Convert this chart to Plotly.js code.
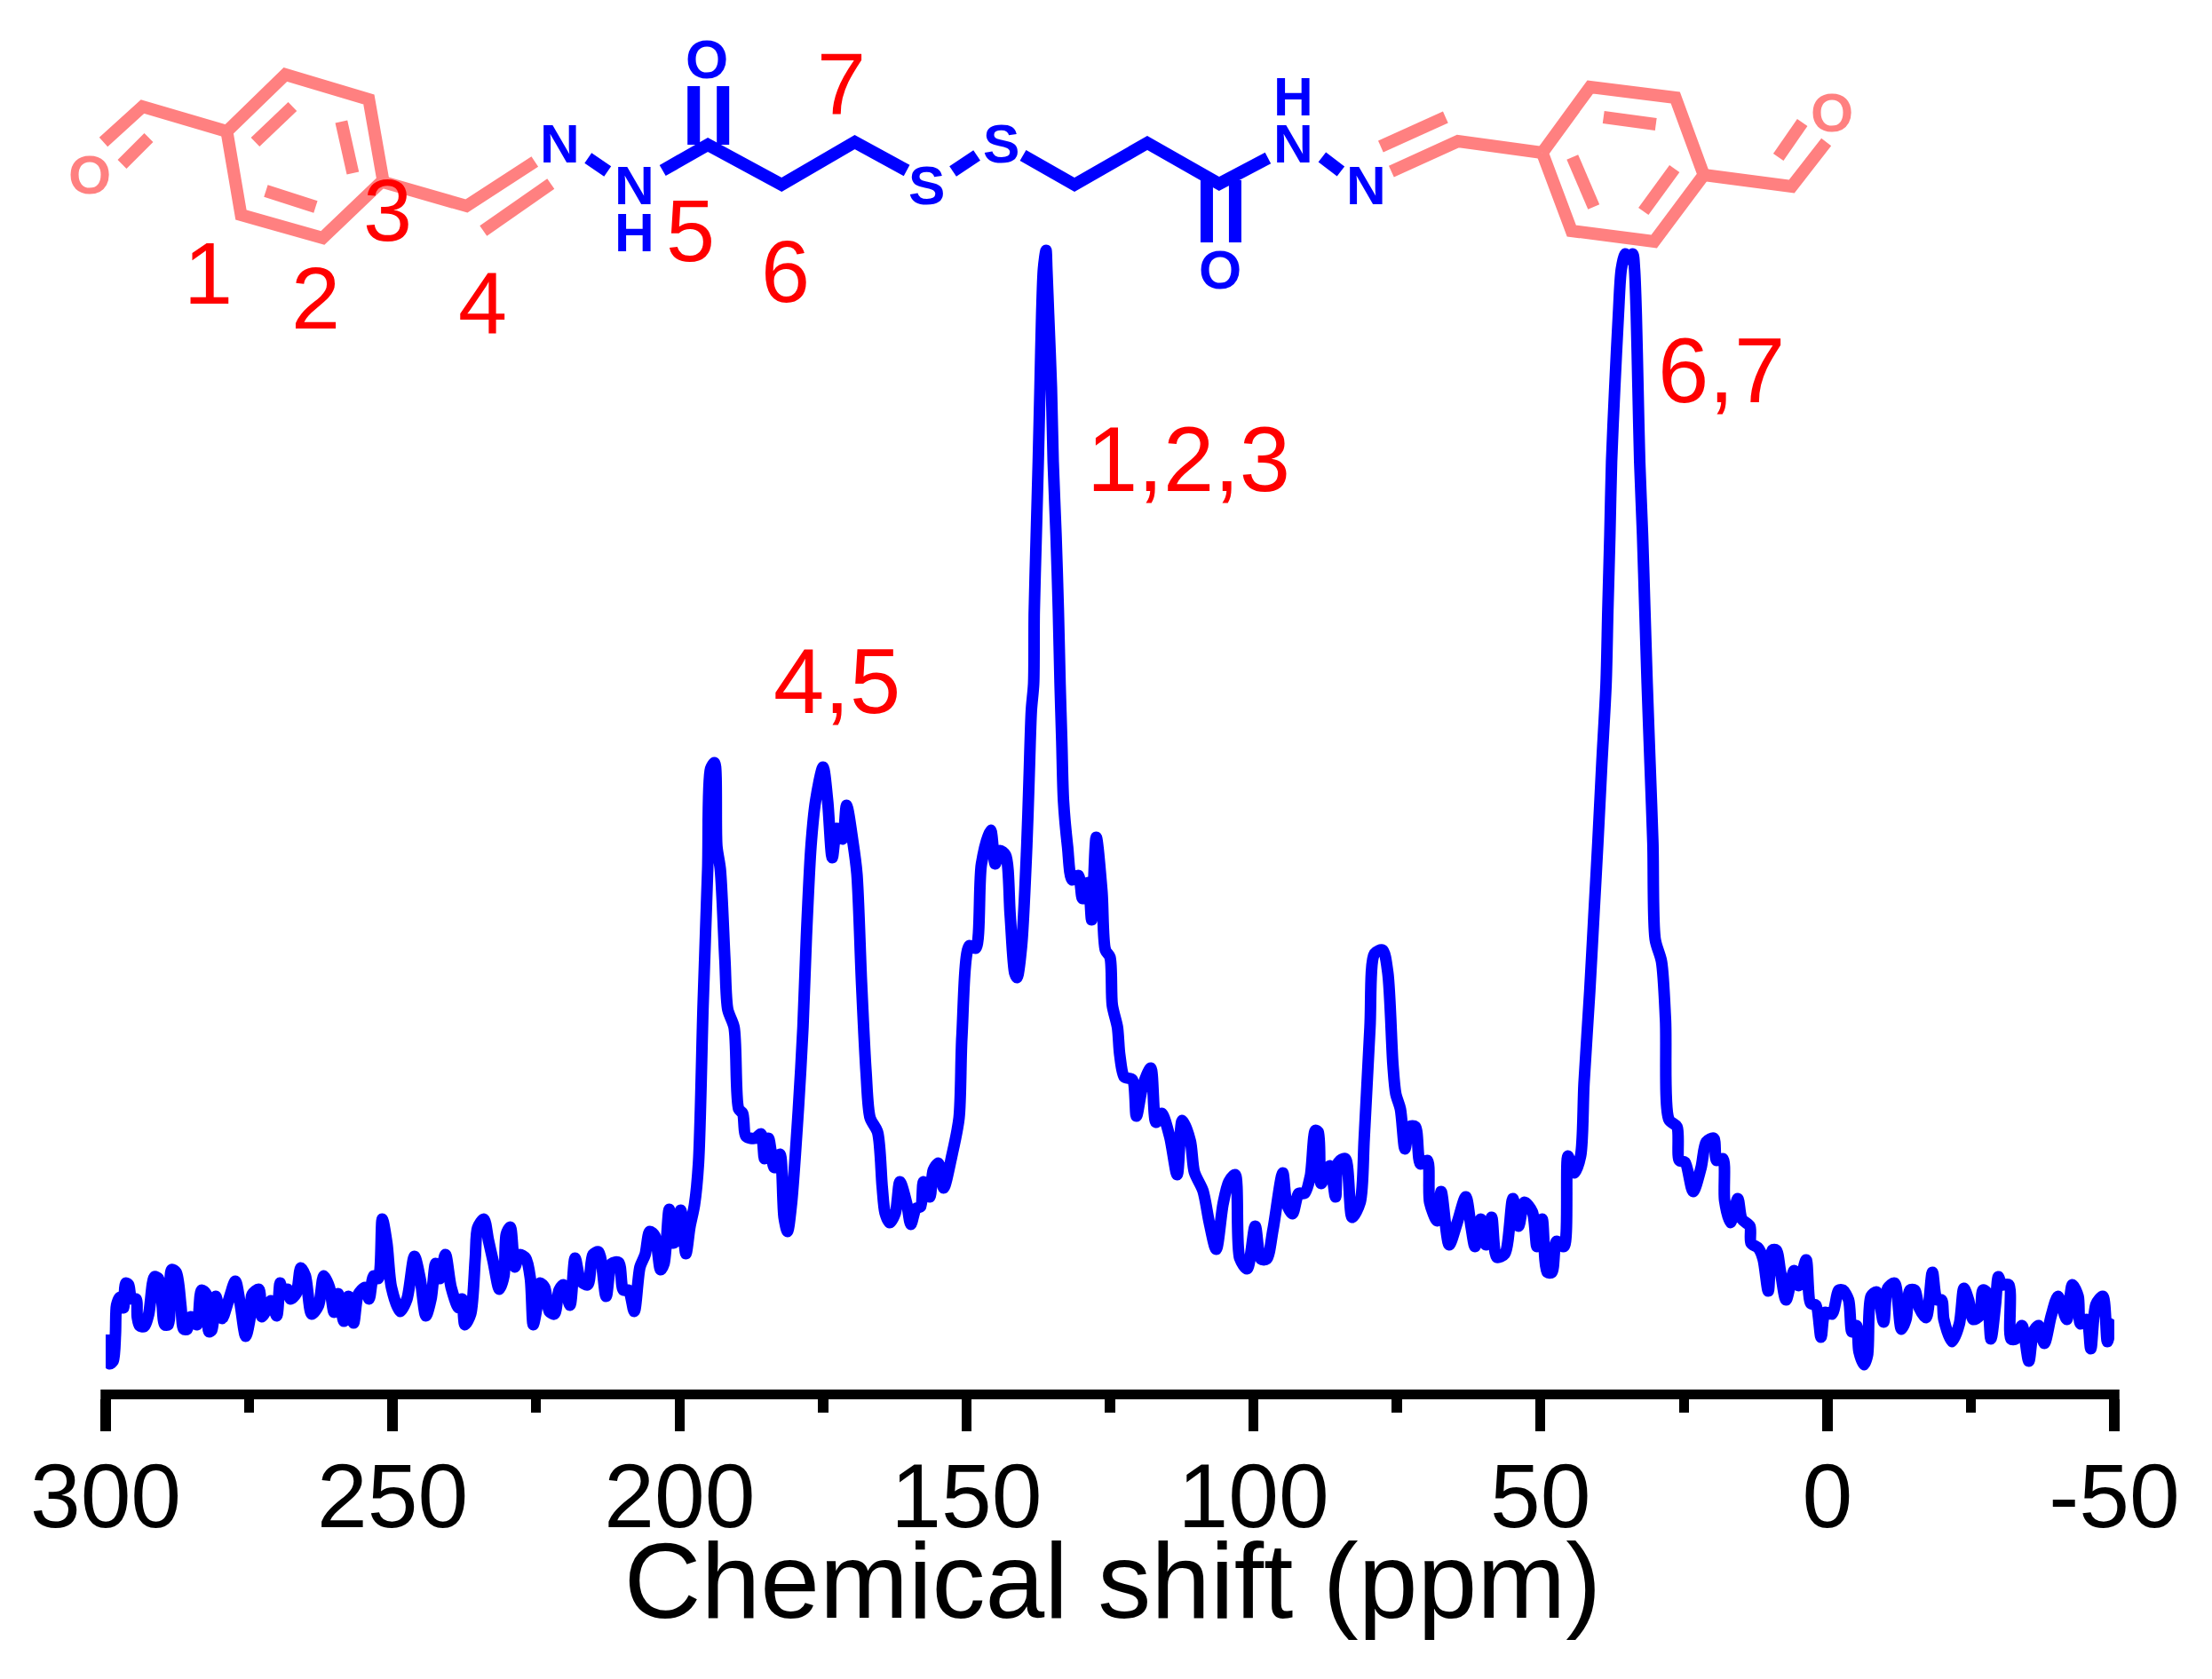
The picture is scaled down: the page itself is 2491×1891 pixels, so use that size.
<!DOCTYPE html>
<html><head><meta charset="utf-8">
<script src="https://cdn.plot.ly/plotly-3.0.1.min.js"></script>
<style>html,body{margin:0;padding:0;background:#fff}</style></head>
<body><div id="chart" style="width:2491px;height:1891px"></div>
<script>
const ppm = [
299.7,299.3,298.7,298.3,298.1,297.5,296.9,296.5,296.0,295.5,294.7,294.5,294.1,293.3,292.5,291.5,290.8,290.2,289.7,289.1,
288.5,287.7,286.9,286.4,285.8,285.2,284.1,283.3,282.5,282.0,281.5,280.8,280.2,279.7,278.7,277.4,276.6,275.6,274.8,274.5,
273.3,272.8,271.8,271.2,270.2,269.6,269.1,268.3,267.8,266.8,266.0,265.2,264.1,262.9,262.0,261.0,260.2,259.5,258.5,257.7,
256.8,256.0,254.8,254.1,253.3,252.5,251.8,251.0,250.2,248.7,247.5,246.2,245.2,244.2,243.3,242.5,241.8,240.8,239.8,238.5,
237.9,237.4,236.4,235.6,235.2,234.1,233.3,232.5,231.4,230.6,230.2,229.5,228.7,227.9,226.8,226.0,225.5,224.8,224.3,223.5,
222.7,221.8,221.0,220.2,219.1,218.2,217.2,216.0,215.1,214.1,212.8,211.8,210.6,209.8,208.9,207.9,206.9,206.0,205.2,204.3,
203.3,202.7,201.8,201.0,199.8,198.9,198.2,197.4,196.7,195.9,195.1,194.6,193.9,193.5,192.9,192.1,191.6,190.5,189.7,189.0,
188.4,186.8,185.8,185.2,184.5,183.5,182.5,181.8,181.2,180.5,179.3,178.5,177.9,177.1,176.3,175.0,174.2,173.4,172.6,171.6,
170.9,169.8,169.1,168.3,167.5,166.8,165.5,164.7,164.2,163.4,162.4,161.6,160.4,159.7,158.8,158.0,157.5,156.4,155.8,154.9,
154.0,152.5,151.3,150.8,149.5,148.4,147.4,145.8,145.0,144.2,143.2,142.4,141.6,141.2,140.4,139.5,139.1,138.7,138.3,138.2,
137.85,137.5,137.2,136.9,136.6,136.15,136.0,135.7,135.2,134.9,134.4,134.0,133.7,133.4,133.1,132.4,131.6,130.5,129.8,128.8,
128.2,127.4,126.4,125.8,125.0,124.6,123.7,123.3,122.5,121.1,120.4,119.3,117.9,117.0,116.0,114.6,113.3,112.4,111.0,110.3,
108.8,107.7,106.5,105.3,104.3,103.2,102.4,101.1,99.7,98.7,97.7,96.6,94.9,94.2,93.2,92.1,91.1,90.1,89.2,88.7,
88.2,86.7,85.7,85.2,84.0,82.8,81.4,80.7,79.7,78.9,77.5,76.6,75.7,75.2,74.4,73.6,72.8,71.8,70.9,69.7,
69.3,68.0,67.3,65.9,64.5,63.0,62.1,61.4,60.4,59.5,58.5,57.6,56.2,54.8,53.8,52.8,51.4,50.6,49.7,48.8,
48.0,47.2,45.9,45.2,44.1,43.0,42.4,41.4,40.7,40.0,39.3,38.56,38.25,37.9,37.6,37.05,36.4,35.9,35.2,34.5,
33.9,33.6,33.3,33.0,32.7,32.2,31.8,31.4,30.9,30.4,30.0,28.9,28.2,27.6,26.2,25.8,24.8,23.4,22.0,21.1,
19.8,19.3,18.2,17.9,16.9,15.6,14.9,13.5,13.3,12.0,11.2,10.3,9.6,8.9,8.2,7.2,5.8,5.0,3.7,2.9,
2.0,1.1,0.4,-0.8,-2.0,-2.7,-3.7,-4.3,-5.1,-5.5,-6.4,-7.0,-7.6,-8.6,-9.8,-10.5,-11.7,-12.9,-13.7,-14.4,
-15.2,-16.0,-17.2,-18.3,-19.1,-19.9,-20.3,-21.7,-23.0,-23.8,-24.6,-25.4,-26.5,-27.1,-27.7,-28.5,-29.3,-29.8,-30.4,-31.6,
-32.0,-32.8,-33.9,-35.1,-35.9,-36.8,-37.8,-39.0,-40.2,-41.7,-42.7,-43.7,-44.1,-45.2,-45.9,-46.8,-48.0,-48.8,-49.5,-49.9
];
const intensity = [
62,29,32,62,95,104,92,120,118,102,102,82,72,71,85,127,125,98,73,73,
135,132,95,68,68,82,73,112,108,65,67,105,88,80,98,122,98,60,82,107,
113,82,92,100,83,120,108,113,102,108,137,128,85,95,128,115,87,108,77,105,
75,107,115,102,128,125,192,165,115,88,102,150,125,83,102,142,125,152,115,92,
102,73,85,148,182,192,168,145,113,128,175,183,138,152,148,125,73,95,120,115,
88,85,112,118,95,148,122,118,152,155,105,142,143,112,112,88,138,152,178,173,
135,142,203,165,202,153,183,208,255,433,586,699,706,612,586,484,428,408,316,311,
285,283,288,260,283,250,265,194,178,209,316,408,510,612,663,701,663,599,632,620,
658,617,581,459,357,306,290,229,199,188,199,234,209,186,204,206,234,217,247,255,
227,265,306,398,500,497,592,630,592,607,602,535,469,464,500,612,688,765,795,875,
962,1045,1128,1212,1262,1283,1262,1212,1128,1045,962,878,795,730,663,612,574,579,553,571,
529,622,561,495,487,433,408,377,352,349,308,342,362,301,311,285,242,303,280,245,
224,188,158,209,234,242,148,136,184,147,147,180,244,209,198,221,221,240,292,290,
232,252,217,256,260,194,211,283,408,491,495,470,366,333,316,271,296,296,254,258,
211,190,223,163,188,217,184,161,192,163,194,149,153,215,184,211,200,161,192,132,
132,167,161,263,244,263,345,449,532,615,705,795,878,962,1045,1128,1212,1262,1279,1273,
1279,1262,1212,1128,1045,962,878,795,705,615,507,482,416,304,296,258,256,223,250,279,
283,258,260,213,188,215,192,184,165,159,147,111,157,157,134,101,134,117,146,97,
95,59,87,85,112,112,101,65,72,43,28,39,105,110,76,114,120,68,79,112,
112,92,81,132,101,101,79,54,74,114,101,79,83,112,110,57,96,127,118,118,
57,57,72,32,65,72,52,83,105,79,118,105,74,79,46,96,105,54,74,79
];
const tickValues = [300,250,200,150,100,50,0,-50];
const tickLabels = ['300','250','200','150','100','50','0','-50'];
const axisTitle = 'Chemical shift (ppm)';
const peakLabels = [['1,2,3',1339,553],['4,5',942,803],['6,7',1939,453],
  ['1',234,342],['2',355,370],['3',436,271],['4',543,375],['5',777,294],['6',884,340],['7',947,128]];
const pinkAtoms = [['O',100,196],['O',2063,126]];
const blueAtoms = [['O',796,66],['N',630,161],['N',714,208],['H',714,261],['S',1043,208],['S',1127,161],
  ['N',1457,161],['H',1457,108],['N',1539,208],['O',1374,303]];
const pinkBonds = [
  [[116,160],[160,120],[255,148]],[[137,185],[167,155]],
  [[255,148],[321,84],[415,112],[431,203],[363,268],[271,242],[255,148]],
  [[329,120],[287,160]],[[384,137],[397,195]],[[299,215],[355,233]],
  [[431,205],[525,232],[602,182]],[[544,260],[620,207]],
  [[1567,193],[1642,159],[1737,172]],[[1555,165],[1628,132]],
  [[1737,172],[1791,98],[1887,110],[1919,197],[1863,272],[1770,260],[1737,172]],
  [[1806,132],[1865,140]],[[1771,177],[1795,233]],[[1886,190],[1851,238]],
  [[1919,197],[2018,210],[2057,160]],[[2030,138],[2003,177]]
];
const blueBonds = [
  [[662,178],[684,193]],[[746,192],[797,163],[880,208],[962.5,160],[1021,192]],
  [[781,97],[781,163]],[[814,97],[814,163]],
  [[1073,193],[1100,175]],[[1152,175],[1210,208],[1292,161],[1373,207],[1428,178]],
  [[1359,203],[1359,273]],[[1391,203],[1391,273]],[[1489,177],[1510,193]]
];

const W=2491,H=1891,L=118.5,R=2381.5,T=165,B=1565;
const X=p=>(p-L)/(R-L), Y=p=>(B-p)/(B-T);
const FONT='Liberation Sans, Arial, sans-serif';
const txt=(t,x,base,size,color,bold)=>({text:bold?'<b>'+t+'</b>':t,xref:'paper',yref:'paper',x:X(x),y:Y(base-0.3465*size),
  xanchor:'center',yanchor:'middle',showarrow:false,font:{family:FONT,size:size,color:color}});
const atom=color=>a=>txt(a[0],a[1],a[2]+22,62,color,true);
const annotations=[
  ...peakLabels.map((a,i)=>txt(a[0],a[1],a[2],i<3?103:99,'#ff0000',false)),
  ...pinkAtoms.map(atom('#ff8080')),
  ...blueAtoms.map(atom('#0000ff'))
];
const bondShape=color=>b=>({type:'path',xref:'paper',yref:'paper',
  path:b.map((p,i)=>(i?'L':'M')+X(p[0])+','+Y(p[1])).join(' '),
  line:{color:color,width:14}});
const axisEnds={type:'line',xref:'paper',yref:'paper',x0:X(L-5.75),x1:X(R+5.75),y0:Y(1570.5),y1:Y(1570.5),line:{color:'#000',width:11}};
const shapes=[...pinkBonds.map(bondShape('#ff8080')),...blueBonds.map(bondShape('#0000ff')),axisEnds];

Plotly.newPlot('chart',[{x:ppm,y:intensity,type:'scatter',mode:'lines',cliponaxis:false,
  line:{color:'#0000ff',width:13,shape:'spline',smoothing:0.8},hoverinfo:'skip'}],{
  width:W,height:H,paper_bgcolor:'#fff',plot_bgcolor:'#fff',showlegend:false,
  margin:{l:L,r:W-R,t:T,b:H-B,pad:0},
  xaxis:{range:[300,-50],showgrid:false,zeroline:false,showline:true,linecolor:'#000',linewidth:11,
    ticks:'outside',ticklen:36,tickwidth:11.5,tickcolor:'#000',tickmode:'array',tickvals:tickValues,ticktext:tickLabels,
    ticklabelstandoff:-14,
    tickfont:{family:FONT,size:102,color:'#000'},
    minor:{ticks:'outside',dtick:25,tick0:0,ticklen:15,tickwidth:11.5,tickcolor:'#000',showgrid:false},
    title:{text:axisTitle,standoff:0,font:{family:FONT,size:120,color:'#000'}},automargin:false},
  yaxis:{range:[0,1400],visible:false,fixedrange:true},
  annotations:annotations,shapes:shapes
},{displayModeBar:false,staticPlot:true}).then(gd=>{
  const t=gd.querySelector('.xtitle');
  if(t) t.setAttribute('transform','translate(3,-29)');
});
</script></body></html>
